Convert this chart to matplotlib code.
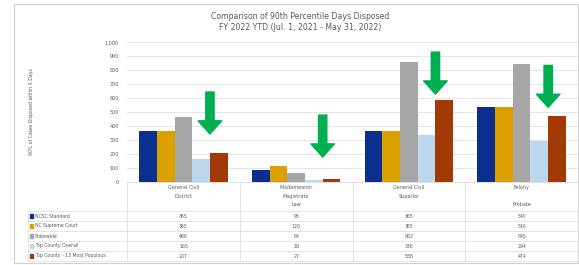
import numpy as np
import matplotlib
matplotlib.use("Agg")
import matplotlib.pyplot as plt
from matplotlib.patches import Rectangle
from matplotlib.lines import Line2D

W, H = 579, 265

title = "Comparison of 90th Percentile Days Disposed\nFY 2022 YTD (Jul. 1, 2021 - May 31, 2022)"
ylabel = "90% of Cases Disposed within X Days"
categories = ["General Civil\nDistrict", "Misdemeanor\nMagistrate\nLaw", "General Civil\nSuperior", "Felony\n\nProbate"]
series_names = ["NCSC Standard", "NC Supreme Court", "Statewide", "Top County Overall", "Top County - 13 Most Populous"]
ncsc = [365, 90, 365, 540]
supreme = [365, 120, 365, 540]
statewide = [466, 64, 862, 845]
county_all = [165, 18, 336, 294]
county_13 = [207, 27, 588, 474]
series_values = [ncsc, supreme, statewide, county_all, county_13]
colors = ["#0a2f8f", "#d9a000", "#a6a6a6", "#bdd7ee", "#a33a06"]
arrow_tips = [345, 180, 630, 535]
arrow_len = 300


def px(x, y):
    return (x / W, 1 - y / H)


fig = plt.figure(figsize=(W / 100, H / 100), dpi=100)
fig.patch.set_facecolor("white")

ax_l, ax_r, ax_t, ax_b = 127, 578, 42.3, 182.3
ax = fig.add_axes([ax_l / W, 1 - ax_b / H, (ax_r - ax_l) / W, (ax_b - ax_t) / H])

x = np.arange(len(categories))
bw = 0.157
for i, vals in enumerate(series_values):
    ax.bar(x + (i - 2) * bw, vals, bw, color=colors[i], zorder=3)

ax.set_xlim(-0.5, len(categories) - 0.5)
ax.set_ylim(0, 1000)
ax.set_yticks(np.arange(0, 1001, 100))
ax.set_yticklabels([f"{v:,}" for v in range(0, 1001, 100)])
ax.tick_params(axis="y", labelsize=3.5, colors="#595959", length=0, pad=6)
ax.set_xticks([])
ax.grid(axis="y", color="#d9d9d9", linewidth=0.5, zorder=0)
for s in ["top", "right", "left"]:
    ax.spines[s].set_visible(False)
ax.spines["bottom"].set_color("#d9d9d9")
ax.spines["bottom"].set_linewidth(0.6)

# green arrows pointing at the last series
for i, tip in enumerate(arrow_tips):
    xc = x[i] + 1.5 * bw
    ax.annotate("", xy=(xc, tip), xytext=(xc, tip + arrow_len),
                arrowprops=dict(arrowstyle="simple,head_width=17,head_length=9.5,tail_width=6",
                                mutation_scale=1, color="#00b050", shrinkA=0, shrinkB=0),
                zorder=5)

fig.text(*px(300, 22), title, ha="center", va="center", fontsize=5.6,
         color="#595959", linespacing=1.3)
fig.text(*px(31, 112), ylabel, ha="center", va="center", fontsize=3.3,
         color="#595959", rotation=90)

# data table
col_w = (ax_r - ax_l) / len(categories)
left_edge = 28
line_kw = dict(color="#d9d9d9", linewidth=0.5, transform=fig.transFigure)
row_lines = [211, 221, 231, 241, 251, 261]
for yy in row_lines:
    fig.add_artist(Line2D([left_edge / W, ax_r / W], [1 - yy / H] * 2, **line_kw))
for j in range(len(categories) + 1):
    xx = ax_l + j * col_w
    fig.add_artist(Line2D([xx / W] * 2, [1 - ax_b / H, 1 - 261 / H], **line_kw))
fig.add_artist(Line2D([left_edge / W] * 2, [1 - 211 / H, 1 - 261 / H], **line_kw))

for j, cat in enumerate(categories):
    cx = ax_l + (j + 0.5) * col_w
    fig.text(*px(cx, 185), cat, ha="center", va="top", fontsize=3.5,
             color="#595959", linespacing=1.9)

for i, name in enumerate(series_names):
    yy = (row_lines[i] + row_lines[i + 1]) / 2
    fig.add_artist(Rectangle(px(30, yy + 1.6), 3.2 / W, 3.2 / H, color=colors[i],
                             transform=fig.transFigure))
    fig.text(*px(35, yy), name, ha="left", va="center", fontsize=3.3, color="#595959")
    for j, v in enumerate(series_values[i]):
        cx = ax_l + (j + 0.5) * col_w
        fig.text(*px(cx, yy), str(v), ha="center", va="center", fontsize=3.3, color="#595959")

# chart frame
fig.add_artist(Rectangle(px(14, 263), (578 - 14) / W, (263 - 4) / H, fill=False,
                         edgecolor="#d0d0d0", linewidth=0.8, transform=fig.transFigure))

fig.savefig("out.png", dpi=100)
